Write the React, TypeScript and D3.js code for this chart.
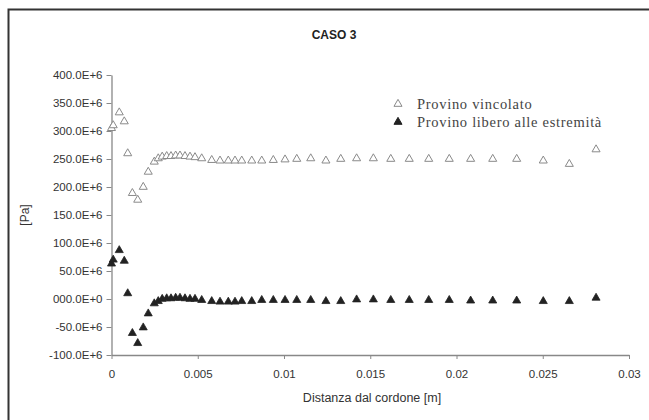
import { useEffect, useRef } from 'react';
import * as d3 from 'd3';

// distance from the weld bead [m]
const xs = [
  0, 0.0001, 0.00045, 0.00074, 0.00094, 0.00121, 0.00152, 0.00184, 0.00213, 0.00248,
  0.00271, 0.00294, 0.0032, 0.00345, 0.00372, 0.00397, 0.00426, 0.00455, 0.00484, 0.00523,
  0.00581, 0.00629, 0.00677, 0.00716, 0.00755, 0.00813, 0.00871, 0.00938, 0.01006, 0.01074,
  0.01155, 0.01243, 0.01329, 0.01421, 0.01518, 0.01619, 0.01726, 0.01839, 0.01958, 0.02082,
  0.0221, 0.02349, 0.02503, 0.02654, 0.02809,
];
// stress [Pa / 1e6]
const vincolato = [
  305, 310, 333, 317, 260, 189, 177, 200, 227, 245,
  251, 254, 255, 255, 256, 256, 255, 254, 253, 251,
  248, 247, 247, 247, 247, 247, 247, 248, 249, 250,
  251, 247, 250, 251, 251, 250, 250, 250, 250, 250,
  250, 250, 247, 241, 267,
];
const libero = [
  63, 70, 87, 68, 10, -61, -79, -51, -26, -8,
  -4, 0, 1, 1, 2, 2, 1, 0, 0, -2,
  -4, -5, -5, -5, -4, -4, -2, -2, -2, -2,
  -2, -4, -4, -1, -1, -2, -2, -2, -2, -3,
  -3, -3, -4, -4, 2,
];
const yTicks = [400, 350, 300, 250, 200, 150, 100, 50, 0, -50, -100];
const yTickLabels = [
  '400.0E+6', '350.0E+6', '300.0E+6', '250.0E+6', '200.0E+6', '150.0E+6',
  '100.0E+6', '50.0E+6', '000.0E+0', '-50.0E+6', '-100.0E+6',
];
const xTicks = [0, 0.005, 0.01, 0.015, 0.02, 0.025, 0.03];
const seriesNames = ['Provino vincolato', 'Provino libero alle estremità'];

const sans = 'Arial, Liberation Sans, sans-serif';

export default function App() {
  const ref = useRef<SVGSVGElement>(null);

  useEffect(() => {
    const svg = d3.select(ref.current);
    svg.selectAll('*').remove();

    const x = d3.scaleLinear().domain([0, 0.03]).range([111.5, 629]);
    const y = d3.scaleLinear().domain([-100, 400]).range([355, 75]);

    // frame
    svg.append('rect')
      .attr('x', 8.5).attr('y', 9.5)
      .attr('width', 700).attr('height', 500)
      .attr('fill', 'none').attr('stroke', '#333').attr('stroke-width', 2);

    svg.append('text')
      .attr('x', 334).attr('y', 39)
      .attr('text-anchor', 'middle')
      .attr('font-family', sans)
      .attr('font-weight', 'bold').attr('font-size', 12)
      .attr('fill', '#222')
      .text('CASO 3');

    const yAxis = svg.append('g')
      .attr('transform', `translate(${x(0)},0)`)
      .call(d3.axisLeft(y).tickValues(yTicks).tickSize(5).tickSizeOuter(0)
        .tickFormat((d, i) => yTickLabels[i]));
    const xAxis = svg.append('g')
      .attr('transform', `translate(0,${y(-100)})`)
      .call(d3.axisBottom(x).tickValues(xTicks).tickSize(4).tickSizeOuter(0)
        .tickFormat(d => (d === 0 ? '0' : String(d))));

    [yAxis, xAxis].forEach(g => {
      g.select('.domain').attr('stroke', '#888').attr('stroke-width', 1.3);
      g.selectAll('.tick line').attr('stroke', '#888');
      g.selectAll('.tick text')
        .attr('font-family', sans)
        .attr('font-size', 11.5).attr('fill', '#333');
    });
    yAxis.selectAll('.tick text').attr('x', -9);
    xAxis.selectAll('.tick text').attr('y', 15);

    svg.append('text')
      .attr('x', 372).attr('y', 402)
      .attr('text-anchor', 'middle')
      .attr('font-family', sans)
      .attr('font-size', 12.5).attr('fill', '#333')
      .text('Distanza dal cordone [m]');
    svg.append('text')
      .attr('transform', 'translate(29,215) rotate(-90)')
      .attr('text-anchor', 'middle')
      .attr('font-family', sans)
      .attr('font-size', 12).attr('fill', '#333')
      .text('[Pa]');

    const tri = d3.symbol().type(d3.symbolTriangle).size(28);

    svg.append('g').selectAll('path')
      .data(xs)
      .join('path')
      .attr('d', tri)
      .attr('transform', (d, i) => `translate(${x(d)},${y(vincolato[i])})`)
      .attr('fill', 'white').attr('stroke', '#8a8a8a').attr('stroke-width', 1);

    svg.append('g').selectAll('path')
      .data(xs)
      .join('path')
      .attr('d', tri)
      .attr('transform', (d, i) => `translate(${x(d)},${y(libero[i])})`)
      .attr('fill', '#222').attr('stroke', '#222').attr('stroke-width', 0.8);

    // legend
    const legend = svg.append('g').attr('transform', 'translate(398,104)');
    seriesNames.forEach((name, i) => {
      legend.append('path')
        .attr('d', tri)
        .attr('transform', `translate(0,${i * 18})`)
        .attr('fill', i === 0 ? 'white' : '#222')
        .attr('stroke', i === 0 ? '#8a8a8a' : '#222');
      legend.append('text')
        .attr('x', 19).attr('y', i * 18 + 5)
        .attr('font-family', 'Liberation Serif, Times New Roman, serif')
        .attr('font-size', 14.5).attr('letter-spacing', 0.7).attr('fill', '#444')
        .text(name);
    });
  }, []);

  return (
    <svg ref={ref} width={649} height={420}
      style={{ position: 'absolute', left: 0, top: 0, background: 'white' }} />
  );
}
